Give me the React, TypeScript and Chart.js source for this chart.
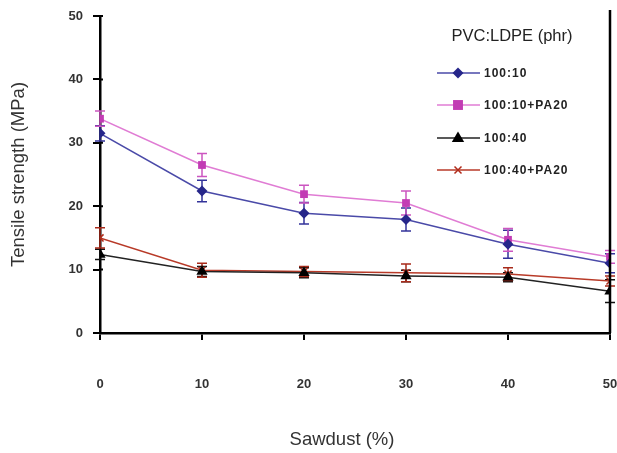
import React, { useEffect, useRef } from "react";
import { Chart, registerables } from "chart.js";

Chart.register(...registerables);

const sawdust = [0, 10, 20, 30, 40, 50];
const yTicks = [0, 10, 20, 30, 40, 50];

const s1Label = "100:10";
const s1Values = [31.5, 22.4, 18.9, 17.9, 14.0, 11.0];
const s1Err = [1.2, 1.7, 1.7, 1.8, 2.2, 1.5];

const s2Label = "100:10+PA20";
const s2Values = [33.8, 26.5, 21.9, 20.5, 14.7, 12.0];
const s2Err = [1.2, 1.8, 1.4, 1.9, 1.8, 1.0];

const s3Label = "100:40";
const s3Values = [12.4, 9.7, 9.5, 9.0, 8.8, 6.6];
const s3Err = [0.8, 0.8, 0.8, 0.9, 0.7, 1.8];

const s4Label = "100:40+PA20";
const s4Values = [15.0, 9.9, 9.7, 9.5, 9.3, 8.2];
const s4Err = [1.6, 1.1, 0.8, 1.4, 1.0, 0.8];

const legendTitle = "PVC:LDPE (phr)";
const xTitle = "Sawdust (%)";
const yTitle = "Tensile strength (MPa)";

const errors = [s1Err, s2Err, s3Err, s4Err];

function drawMarker(ctx: CanvasRenderingContext2D, style: string, x: number, y: number, r: number, fill: string, stroke: string) {
  ctx.save();
  ctx.fillStyle = fill;
  ctx.strokeStyle = stroke;
  ctx.lineWidth = 1.5;
  ctx.beginPath();
  if (style === "rectRot") {
    ctx.moveTo(x, y - r);
    ctx.lineTo(x + r, y);
    ctx.lineTo(x, y + r);
    ctx.lineTo(x - r, y);
    ctx.closePath();
    ctx.fill();
  } else if (style === "rect") {
    ctx.rect(x - r * 0.9, y - r * 0.9, r * 1.8, r * 1.8);
    ctx.fill();
  } else if (style === "triangle") {
    ctx.moveTo(x, y - r);
    ctx.lineTo(x + r * 0.95, y + r * 0.6);
    ctx.lineTo(x - r * 0.95, y + r * 0.6);
    ctx.closePath();
    ctx.fill();
  } else if (style === "crossRot") {
    const d = r * 0.7;
    ctx.moveTo(x - d, y - d);
    ctx.lineTo(x + d, y + d);
    ctx.moveTo(x + d, y - d);
    ctx.lineTo(x - d, y + d);
    ctx.stroke();
  }
  ctx.restore();
}

const errorBarPlugin = {
  id: "errorBars",
  beforeDatasetsDraw(chart: any) {
    const ctx = chart.ctx as CanvasRenderingContext2D;
    const xs = chart.scales.x;
    const ys = chart.scales.y;
    chart.data.datasets.forEach((ds: any, i: number) => {
      const errs = errors[i];
      ctx.save();
      ctx.strokeStyle = ds.errorColor;
      ctx.lineWidth = 1.5;
      ds.data.forEach((p: any, j: number) => {
        const v = p.y as number;
        const px = xs.getPixelForValue(p.x);
        const top = ys.getPixelForValue(v + errs[j]);
        const bot = ys.getPixelForValue(v - errs[j]);
        ctx.beginPath();
        ctx.moveTo(px, top);
        ctx.lineTo(px, bot);
        ctx.moveTo(px - 5, top);
        ctx.lineTo(px + 5, top);
        ctx.moveTo(px - 5, bot);
        ctx.lineTo(px + 5, bot);
        ctx.stroke();
      });
      ctx.restore();
    });
  },
};

const framePlugin = {
  id: "frame",
  afterDraw(chart: any) {
    const ctx = chart.ctx as CanvasRenderingContext2D;
    const a = chart.chartArea;
    const ys = chart.scales.y;
    ctx.save();
    ctx.strokeStyle = "#000";
    ctx.lineWidth = 2.5;
    ctx.beginPath();
    ctx.moveTo(a.right, a.top - 6);
    ctx.lineTo(a.right, a.bottom);
    ctx.stroke();
    ctx.lineWidth = 2;
    ctx.beginPath();
    yTicks.forEach((v) => {
      const py = ys.getPixelForValue(v);
      ctx.moveTo(a.left, py);
      ctx.lineTo(a.left + 3, py);
    });
    ctx.stroke();
    // x axis title (slightly left of the plot centre, as in the original)
    ctx.fillStyle = "#333";
    ctx.font = "18.5px 'Liberation Sans', Arial, sans-serif";
    ctx.textAlign = "center";
    ctx.textBaseline = "middle";
    ctx.fillText(xTitle, 342, 440);
    ctx.restore();
  },
};

const legendPlugin = {
  id: "customLegend",
  afterDraw(chart: any) {
    const ctx = chart.ctx as CanvasRenderingContext2D;
    ctx.save();
    ctx.fillStyle = "#222";
    ctx.font = "16.5px 'Liberation Sans', Arial, sans-serif";
    ctx.textAlign = "center";
    ctx.textBaseline = "middle";
    ctx.fillText(legendTitle, 512, 36);
    const rows = [73, 105, 138, 170];
    chart.data.datasets.forEach((ds: any, i: number) => {
      const y = rows[i];
      ctx.strokeStyle = ds.borderColor;
      ctx.lineWidth = 1.5;
      ctx.beginPath();
      ctx.moveTo(437, y);
      ctx.lineTo(480, y);
      ctx.stroke();
      drawMarker(ctx, ds.pointStyle, 458, y, ds.pointRadius, ds.pointBackgroundColor, ds.pointBorderColor);
      ctx.fillStyle = "#222";
      ctx.font = "bold 12px 'Liberation Sans', Arial, sans-serif";
      (ctx as any).letterSpacing = "1px";
      ctx.textAlign = "left";
      ctx.fillText(ds.label, 484, y + 1);
      (ctx as any).letterSpacing = "0px";
    });
    ctx.restore();
  },
};

export default function App() {
  const ref = useRef<HTMLCanvasElement>(null);
  useEffect(() => {
    document.body.style.margin = "0";
    const tickFont = { family: "'Liberation Sans', Arial, sans-serif", size: 13, weight: "bold" as const };
    const titleFont = { family: "'Liberation Sans', Arial, sans-serif", size: 18.5 };
    const mk = (label: string, values: number[], line: string, pt: string, style: string, r: number, err: string) => ({
      label,
      data: values.map((v, i) => ({ x: sawdust[i], y: v })),
      borderColor: line,
      borderWidth: 1.5,
      pointStyle: style,
      pointRadius: r,
      pointBackgroundColor: pt,
      pointBorderColor: pt,
      pointBorderWidth: style === "crossRot" ? 1.5 : 0,
      errorColor: err,
      tension: 0,
      fill: false,
    });
    const chart = new Chart(ref.current!, {
      type: "line",
      data: {
        datasets: [
          mk(s1Label, s1Values, "#4a4aa8", "#26268a", "rectRot", 5.5, "#33339a"),
          mk(s2Label, s2Values, "#e07cd4", "#c23cb4", "rect", 5.5, "#cc55c0"),
          mk(s3Label, s3Values, "#222222", "#000000", "triangle", 6.5, "#111111"),
          mk(s4Label, s4Values, "#b83a28", "#b02a1a", "crossRot", 5, "#a82a1a"),
        ] as any,
      },
      options: {
        responsive: false,
        animation: false,
        devicePixelRatio: 1,
        layout: { padding: { left: 0, top: 16, right: 7, bottom: 0 } },
        plugins: { legend: { display: false }, tooltip: { enabled: false } },
        scales: {
          x: {
            type: "linear",
            min: 0,
            max: 50,
            afterFit: (s: any) => { s.height = 120; s.paddingLeft = 0; s.paddingRight = 0; },
            afterBuildTicks: (s: any) => { s.ticks = sawdust.map((v) => ({ value: v })); },
            ticks: { color: "#333", font: tickFont, padding: 37 },
            grid: { drawOnChartArea: false, tickLength: 7, color: "#000", lineWidth: 2 },
            border: { color: "#000", width: 2.5 },
            title: { display: false, text: xTitle },
          },
          y: {
            min: 0,
            max: 50,
            afterFit: (s: any) => { s.width = 100; s.paddingTop = 0; s.paddingBottom = 0; },
            afterBuildTicks: (s: any) => { s.ticks = yTicks.map((v) => ({ value: v })); },
            ticks: { color: "#333", font: tickFont, padding: 10 },
            grid: { drawOnChartArea: false, tickLength: 7, color: "#000", lineWidth: 2 },
            border: { color: "#000", width: 2.5 },
            title: { display: true, text: yTitle, color: "#333", font: titleFont, padding: { top: 8, bottom: 0 } },
          },
        },
      } as any,
      plugins: [errorBarPlugin, framePlugin, legendPlugin],
    });
    return () => chart.destroy();
  }, []);
  return (
    <div style={{ width: 617, height: 453 }}>
      <canvas ref={ref} width={617} height={453} />
    </div>
  );
}
